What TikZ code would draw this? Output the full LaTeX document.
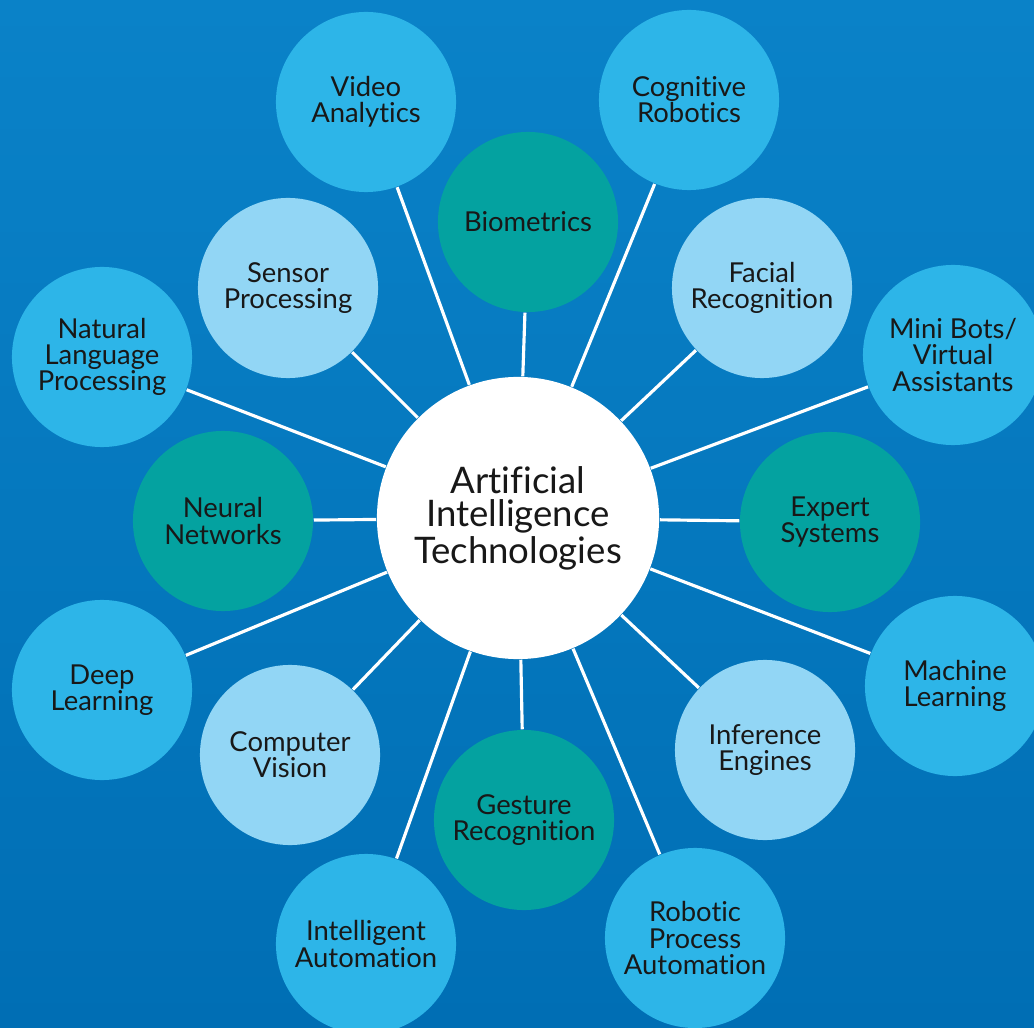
\documentclass[tikz,border=0pt]{standalone}
\usepackage{fontspec}
\setmainfont{Lato}[Ligatures=NoCommon]
\usetikzlibrary{backgrounds}

\definecolor{bgtop}{RGB}{10,130,200}
\definecolor{bgbot}{RGB}{0,110,180}
\definecolor{outerblue}{RGB}{45,181,232}
\definecolor{paleblue}{RGB}{146,214,245}
\definecolor{tealgreen}{RGB}{4,162,160}
\definecolor{inkc}{RGB}{24,24,24}

\tikzset{
  bubble/.style={circle, minimum size=1.8cm, inner sep=0pt, align=center,
    text=inkc, font=\fontsize{7.8}{7.4}\selectfont},
  outerbub/.style={bubble, fill=outerblue},
  palebub/.style={bubble, fill=paleblue},
  tealbub/.style={bubble, fill=tealgreen},
  hub/.style={circle, fill=white, minimum size=2.82cm, inner sep=0pt,
    align=center, text=inkc, font=\fontsize{10.4}{9.4}\selectfont},
  spoke/.style={white, line width=0.9pt}
}

\begin{document}
\begin{tikzpicture}[x=0.01cm,y=-0.01cm]
\useasboundingbox (0,0) rectangle (1034,1028);

% centre
\node[hub] (ai) at (518,518) {Artificial\\Intelligence\\Technologies};

% outer ring
\node[outerbub] (video) at (366,102) {Video\\Analytics};
\node[outerbub] (cogn) at (689,100) {Cognitive\\Robotics};
\node[outerbub] (bots) at (953,355) {Mini Bots/\\Virtual\\Assistants};
\node[outerbub] (ml) at (955,686) {Machine\\Learning};
\node[outerbub] (rpa) at (695,938) {Robotic\\Process\\Automation};
\node[outerbub] (intel) at (366,944) {Intelligent\\Automation};
\node[outerbub] (deep) at (102,690) {Deep\\Learning};
\node[outerbub] (nlp) at (102,357) {Natural\\Language\\Processing};

% pale ring
\node[palebub] (sensor) at (288,288) {Sensor\\Processing};
\node[palebub] (face) at (762,288) {Facial\\Recognition};
\node[palebub] (infer) at (765,750) {Inference\\Engines};
\node[palebub] (vision) at (290,755) {Computer\\Vision};

% teal ring
\node[tealbub] (bio) at (528,222) {Biometrics};
\node[tealbub] (expert) at (830,522) {Expert\\Systems};
\node[tealbub] (gesture) at (524,820) {Gesture\\Recognition};
\node[tealbub] (neural) at (223,521) {Neural\\Networks};

\begin{pgfonlayer}{background}
\fill[top color=bgtop, bottom color=bgbot] (0,0) rectangle (1034,1028);
\foreach \n in {video,cogn,bots,ml,rpa,intel,deep,nlp,sensor,face,infer,vision,bio,expert,gesture,neural}
  \draw[spoke] (ai) -- (\n);
\end{pgfonlayer}
\end{tikzpicture}
\end{document}
